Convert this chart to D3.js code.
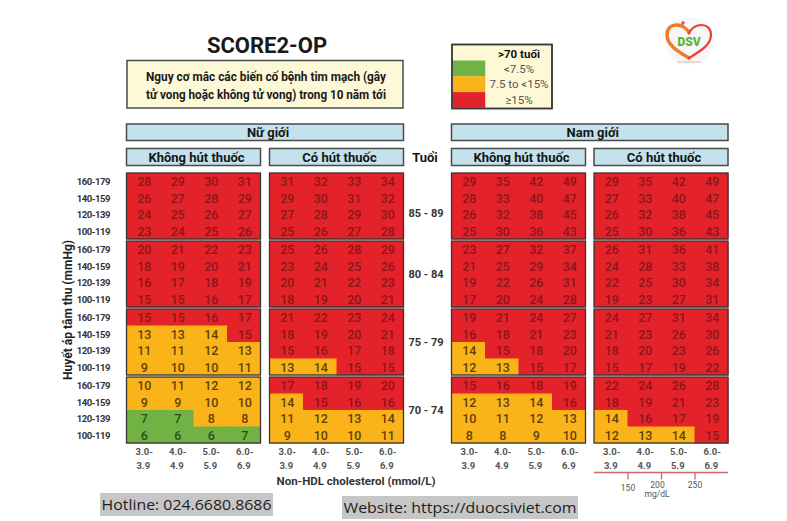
<!DOCTYPE html>
<html>
<head>
<meta charset="utf-8">
<script src="https://cdn.jsdelivr.net/npm/d3@7"></script>
<style>
  html, body { margin: 0; padding: 0; background: #ffffff; }
  svg { display: block; }
</style>
</head>
<body>
<svg id="chart" width="787" height="521"></svg>
<script>
// ---------- DATA ----------
const title = "SCORE2-OP";
const subtitleLines = ["Nguy cơ mắc các biến cố bệnh tim mạch (gây", "tử vong hoặc không tử vong) trong 10 năm tới"];
const sexLabels = ["Nữ giới", "Nam giới"];
const smokeLabels = ["Không hút thuốc", "Có hút thuốc"];
const ageLabel = "Tuổi";
const ageGroups = ["85 - 89", "80 - 84", "75 - 79", "70 - 74"];
const bpLabels = ["160-179", "140-159", "120-139", "100-119"];
const cholLow = ["3.0-", "4.0-", "5.0-", "6.0-"];
const cholHigh = ["3.9", "4.9", "5.9", "6.9"];
const yTitle = "Huyết áp tâm thu (mmHg)";
const xTitle = "Non-HDL cholesterol (mmol/L)";
const mgTicks = [150, 200, 250];
const mgUnit = "mg/dL";
const legendTitle = ">70 tuổi";
const legendLabels = ["<7.5%", "7.5 to <15%", "≥15%"];
const riskThresholds = [7.5, 15];
const footerLeft = "Hotline: 024.6680.8686";
const footerRight = "Website: https://duocsiviet.com";

// rows: 4 age groups x 4 blood-pressure bands, columns: 4 cholesterol bands
const womenNonSmoker = [
  [28,29,30,31],[26,27,28,29],[24,25,26,27],[23,24,25,26],
  [20,21,22,23],[18,19,20,21],[16,17,18,19],[15,15,16,17],
  [15,15,16,17],[13,13,14,15],[11,11,12,13],[9,10,10,11],
  [10,11,12,12],[9,9,10,10],[7,7,8,8],[6,6,6,7]
];
const womenSmoker = [
  [31,32,33,34],[29,30,31,32],[27,28,29,30],[25,26,27,28],
  [25,26,28,29],[23,24,25,26],[20,21,22,23],[18,19,20,21],
  [21,22,23,24],[18,19,20,21],[15,16,17,18],[13,14,15,15],
  [17,18,19,20],[14,15,16,16],[11,12,13,14],[9,10,10,11]
];
const menNonSmoker = [
  [29,35,42,49],[28,33,40,47],[26,32,38,45],[25,30,36,43],
  [23,27,32,37],[21,25,29,34],[19,22,26,31],[17,20,24,28],
  [19,21,24,27],[16,18,21,23],[14,15,18,20],[12,13,15,17],
  [15,16,18,19],[12,13,14,16],[10,11,12,13],[8,8,9,10]
];
const menSmoker = [
  [29,35,42,49],[27,33,40,47],[26,32,38,45],[25,30,36,43],
  [26,31,36,41],[24,28,33,38],[22,25,30,34],[19,23,27,31],
  [24,27,31,34],[21,23,26,30],[18,20,23,26],[15,17,19,22],
  [22,24,26,28],[18,19,21,23],[14,16,17,19],[12,13,14,15]
];

// ---------- STYLE / LAYOUT ----------
const RED = "#e42229", YEL = "#fab41a", GRN = "#72b144";
const TXT_ON = { [RED]: "#8c161b", [YEL]: "#5e4204", [GRN]: "#27521a" };
const color = d3.scaleThreshold().domain(riskThresholds).range([GRN, YEL, RED]);

const svg = d3.select("#chart");
const SANS = "Roboto, 'Liberation Sans', Arial, sans-serif";

const panelX = [126.5, 269.5, 451.5, 594];
const panelW = 134;
const panelData = [womenNonSmoker, womenSmoker, menNonSmoker, menSmoker];
const gridTop = 173, gridBottom = 443;

const blockScale = d3.scaleBand().domain(ageGroups).range([gridTop, gridBottom]).paddingInner(0.03);
const rowScale = d3.scaleBand().domain(bpLabels).range([0, blockScale.bandwidth()]);
const colScales = panelX.map(x0 => d3.scaleBand().domain(d3.range(4)).range([x0, x0 + panelW]));

// ---------- TITLE ----------
svg.append("text").attr("x", 267).attr("y", 53).attr("text-anchor", "middle")
  .attr("font-family", SANS).attr("font-weight", 700).attr("font-size", 22).attr("fill", "#1a1a1a")
  .text(title);

// subtitle box
svg.append("rect").attr("x", 127).attr("y", 60.5).attr("width", 276).attr("height", 47.5)
  .attr("fill", "#fdf8d6").attr("stroke", "#4a4a4a").attr("stroke-width", 1.5);
subtitleLines.forEach((t, i) => {
  svg.append("text").attr("x", 266).attr("y", 80.5 + i * 18).attr("text-anchor", "middle")
    .attr("font-family", SANS).attr("font-weight", 700).attr("font-size", 12.5).attr("fill", "#1a1a1a")
    .attr("textLength", 240).attr("lengthAdjust", "spacingAndGlyphs")
    .text(t);
});

// ---------- LEGEND ----------
const lg = svg.append("g");
lg.append("rect").attr("x", 452).attr("y", 44.5).attr("width", 100).attr("height", 64)
  .attr("fill", "#fdf8d6").attr("stroke", "#3a3a3a").attr("stroke-width", 1.5);
lg.append("text").attr("x", 519).attr("y", 57.5).attr("text-anchor", "middle")
  .attr("font-family", SANS).attr("font-weight", 700).attr("font-size", 11.5).attr("fill", "#111")
  .text(legendTitle);
const legendColors = color.range();
legendLabels.forEach((t, i) => {
  lg.append("rect").attr("x", 452.75).attr("y", 60.5 + i * 15.8).attr("width", 32.5).attr("height", 15.8)
    .attr("fill", legendColors[i]);
  lg.append("text").attr("x", 519).attr("y", 72.5 + i * 15.8).attr("text-anchor", "middle")
    .attr("font-family", SANS).attr("font-size", 11.5).attr("fill", "#555")
    .text(t);
});
lg.append("rect").attr("x", 452).attr("y", 44.5).attr("width", 100).attr("height", 64)
  .attr("fill", "none").attr("stroke", "#3a3a3a").attr("stroke-width", 1.5);

// ---------- LOGO ----------
const logo = svg.append("g").attr("transform", "translate(689,25)");
logo.append("circle").attr("cx", 0).attr("cy", 16).attr("r", 24).attr("fill", "#f7f7f7");
logo.append("path")
  .attr("d", "M0,8 C-4,-2 -22,-4 -22,10 C-22,21 -8,28 0,33")
  .attr("fill", "none").attr("stroke", "#f07b2a").attr("stroke-width", 3.5).attr("stroke-linecap", "round");
logo.append("path")
  .attr("d", "M0,33 C8,28 22,21 22,10 C22,-4 4,-2 0,8")
  .attr("fill", "none").attr("stroke", "#e8412e").attr("stroke-width", 2.2).attr("stroke-linecap", "round");
logo.append("path").attr("d", "M-8,-2 h4 M-6,-4 v4").attr("stroke", "#e02b2b").attr("stroke-width", 1.2);
logo.append("text").attr("x", 0).attr("y", 21).attr("text-anchor", "middle")
  .attr("font-family", SANS).attr("font-weight", 900).attr("font-size", 12).attr("fill", "#5cb135")
  .text("DSV");
logo.append("line").attr("x1", -12).attr("x2", 12).attr("y1", 37).attr("y2", 37)
  .attr("stroke", "#e6a0a0").attr("stroke-width", 0.8);

// ---------- HEADER BARS ----------
function headerBar(x, y, w, h, label) {
  svg.append("rect").attr("x", x).attr("y", y).attr("width", w).attr("height", h)
    .attr("fill", "#c3e2ec").attr("stroke", "#4a4a4a").attr("stroke-width", 1.5);
  svg.append("text").attr("x", x + w / 2 + 3).attr("y", y + h / 2 + 4.5).attr("text-anchor", "middle")
    .attr("font-family", SANS).attr("font-weight", 700).attr("font-size", 13).attr("fill", "#151515")
    .text(label);
}
sexLabels.forEach((s, si) => {
  const x0 = panelX[si * 2], x1 = panelX[si * 2 + 1] + panelW;
  headerBar(x0, 124, x1 - x0, 16.5, s);
  smokeLabels.forEach((k, ki) => {
    headerBar(panelX[si * 2 + ki], 148.5, panelW, 17, k);
  });
});
svg.append("text").attr("x", 425).attr("y", 162).attr("text-anchor", "middle")
  .attr("font-family", SANS).attr("font-weight", 700).attr("font-size", 13).attr("fill", "#151515")
  .text(ageLabel);

// ---------- GRID PANELS ----------
panelData.forEach((data, pi) => {
  const xs = colScales[pi];
  const g = svg.append("g");
  ageGroups.forEach((age, ai) => {
    const by = blockScale(age);
    bpLabels.forEach((bp, ri) => {
      const vals = data[ai * 4 + ri];
      vals.forEach((v, ci) => {
        const c = color(v);
        g.append("rect")
          .attr("x", xs(ci)).attr("y", by + rowScale(bp))
          .attr("width", xs.bandwidth() + 0.5).attr("height", rowScale.bandwidth() + 0.5)
          .attr("fill", c);
        g.append("text")
          .attr("x", xs(ci) + xs.bandwidth() / 2 + 1)
          .attr("y", by + rowScale(bp) + rowScale.bandwidth() / 2 + 5)
          .attr("text-anchor", "middle")
          .attr("font-family", SANS).attr("font-weight", 500).attr("font-size", 12.5)
          .attr("fill", TXT_ON[c])
          .text(v);
      });
    });
    g.append("rect").attr("x", xs.range()[0]).attr("y", by)
      .attr("width", panelW).attr("height", blockScale.bandwidth())
      .attr("fill", "none").attr("stroke", "#3c3434").attr("stroke-width", 1.3);
  });
});

// ---------- ROW LABELS ----------
ageGroups.forEach((age, ai) => {
  const by = blockScale(age);
  bpLabels.forEach(bp => {
    svg.append("text").attr("x", 110).attr("y", by + rowScale(bp) + rowScale.bandwidth() / 2 + 4)
      .attr("text-anchor", "end")
      .attr("font-family", SANS).attr("font-weight", 700).attr("font-size", 9.5)
      .attr("letter-spacing", -0.45).attr("fill", "#333")
      .text(bp);
  });
  svg.append("text").attr("x", 426).attr("y", by + blockScale.bandwidth() / 2 + 4 + (ai === 0 ? 7 : 0))
    .attr("text-anchor", "middle")
    .attr("font-family", SANS).attr("font-weight", 700).attr("font-size", 11).attr("fill", "#333")
    .text(age);
});

// y title
svg.append("text").attr("transform", "translate(72,310) rotate(-90)").attr("text-anchor", "middle")
  .attr("font-family", SANS).attr("font-weight", 700).attr("font-size", 13).attr("fill", "#222")
  .attr("textLength", 140).attr("lengthAdjust", "spacingAndGlyphs")
  .text(yTitle);

// ---------- X TICK LABELS ----------
colScales.forEach(xs => {
  d3.range(4).forEach(ci => {
    const cx = xs(ci) + xs.bandwidth() / 2 + 1;
    svg.append("text").attr("x", cx).attr("y", 455).attr("text-anchor", "middle")
      .attr("font-family", SANS).attr("font-weight", 700).attr("font-size", 9.5).attr("fill", "#555")
      .text(cholLow[ci]);
    svg.append("text").attr("x", cx - 1).attr("y", 469).attr("text-anchor", "middle")
      .attr("font-family", SANS).attr("font-weight", 700).attr("font-size", 9.5).attr("fill", "#555")
      .text(cholHigh[ci]);
  });
});
svg.append("text").attr("x", 356).attr("y", 485).attr("text-anchor", "middle")
  .attr("font-family", SANS).attr("font-weight", 700).attr("font-size", 11.5).attr("fill", "#333")
  .text(xTitle);

// mg/dL axis under last panel
const mgScale = d3.scaleLinear().domain([100, 300]).range([panelX[3], panelX[3] + panelW]);
const mgAxis = svg.append("g").attr("transform", "translate(0,472.5)")
  .call(d3.axisBottom(mgScale).tickValues(mgTicks).tickSize(7).tickFormat(d3.format("d")));
mgAxis.select(".domain").attr("stroke", "#d1646c").attr("stroke-width", 1.3).attr("d", `M${panelX[3]},0H${panelX[3] + panelW}`);
mgAxis.selectAll(".tick line").attr("stroke", "#d1646c").attr("stroke-width", 1.3);
mgAxis.selectAll(".tick text").attr("font-family", SANS).attr("font-size", 8.5).attr("fill", "#555")
  .attr("dy", (d, i) => i === 0 ? "0.95em" : "0.6em");
mgAxis.selectAll(".tick").filter(d => d === 200).select("text").attr("dx", -4);
svg.append("text").attr("x", 657).attr("y", 497).attr("text-anchor", "middle")
  .attr("font-family", SANS).attr("font-size", 8.5).attr("fill", "#555").text(mgUnit);

// ---------- FOOTER ----------
svg.append("rect").attr("x", 100).attr("y", 493).attr("width", 173).attr("height", 23).attr("fill", "#c6c6c6");
svg.append("text").attr("x", 101.5).attr("y", 510).attr("font-family", "'Open Sans', sans-serif")
  .attr("font-size", 15).attr("fill", "#1e1e1e").attr("textLength", 170).attr("lengthAdjust", "spacingAndGlyphs")
  .text(footerLeft);
svg.append("rect").attr("x", 342).attr("y", 496).attr("width", 236).attr("height", 23).attr("fill", "#c6c6c6");
svg.append("text").attr("x", 343.5).attr("y", 513).attr("font-family", "'Open Sans', sans-serif")
  .attr("font-size", 15).attr("fill", "#1e1e1e").attr("textLength", 233).attr("lengthAdjust", "spacingAndGlyphs")
  .text(footerRight);
</script>
</body>
</html>
